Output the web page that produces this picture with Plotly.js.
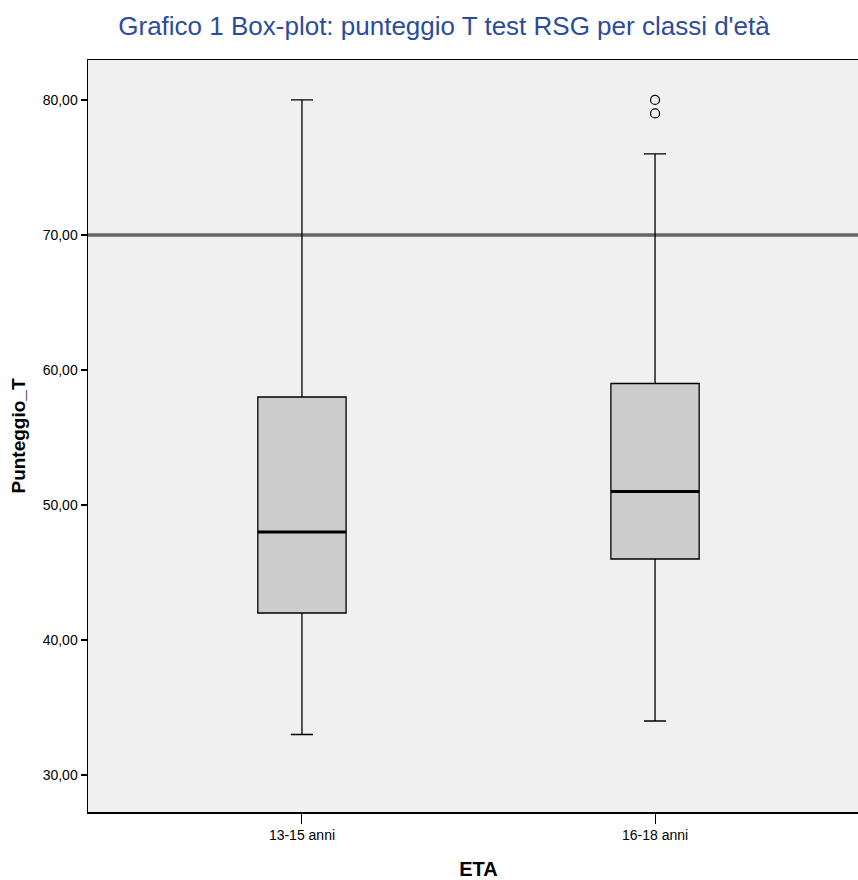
<!DOCTYPE html>
<html><head><meta charset="utf-8">
<script src="https://cdn.plot.ly/plotly-3.0.1.min.js"></script>
<style>html,body{margin:0;padding:0;overflow:hidden;background:#fff}</style>
</head><body><div id="chart"></div>
<script>
const categories = ["13-15 anni", "16-18 anni"];
const lowerWhisker = [33, 34];
const q1Values = [42, 46];
const medians = [48, 51];
const q3Values = [58, 59];
const upperWhisker = [80, 76];
const outlierCategory = ["16-18 anni", "16-18 anni"];
const outlierValues = [79, 80];
const referenceValue = 70;
const yTicks = [30, 40, 50, 60, 70, 80];

const boxWidth = 0.25;
const traces = [
  {
    type: 'box', x: categories, q1: q1Values, median: medians, q3: q3Values,
    lowerfence: lowerWhisker, upperfence: upperWhisker,
    fillcolor: '#CCCCCC', line: {color: '#000', width: 1.3},
    width: boxWidth, whiskerwidth: 0.25, boxpoints: false, hoverinfo: 'skip', showlegend: false
  },
  {
    type: 'scatter', mode: 'markers', x: outlierCategory, y: outlierValues,
    marker: {symbol: 'circle-open', size: 9, color: '#000', line: {width: 1.2}},
    showlegend: false, hoverinfo: 'skip'
  }
];

const shapes = [
  {type: 'line', xref: 'paper', yref: 'y', x0: 0, x1: 1, y0: referenceValue, y1: referenceValue,
   line: {color: '#666666', width: 3.5}, layer: 'below'}
];
medians.forEach((m, i) => {
  shapes.push({type: 'line', xref: 'x', yref: 'y', x0: i - boxWidth/2, x1: i + boxWidth/2, y0: m, y1: m,
    line: {color: '#000', width: 3}});
});

const layout = {
  width: 872, height: 880,
  margin: {l: 88, r: 3, t: 60, b: 68},
  paper_bgcolor: '#fff', plot_bgcolor: '#F0F0F0',
  separators: ',.',
  title: {text: "Grafico 1 Box-plot: punteggio T test RSG per classi d'età",
    font: {family: 'Liberation Sans, Arial', size: 26, color: '#2B4C9B'},
    xref: 'container', x: 444/872, xanchor: 'center', y: 1 - 26/880, yanchor: 'middle'},
  xaxis: {
    type: 'category', range: [-0.606, 1.606],
    showline: true, mirror: true, linecolor: '#000', linewidth: 1.5,
    showgrid: false, zeroline: false,
    ticks: 'outside', ticklen: 10, tickwidth: 1, tickcolor: '#000',
    tickfont: {family: 'Liberation Sans Narrow, Liberation Sans, Arial', size: 14, color: '#000'},
    title: {text: 'ETA', font: {family: 'Liberation Sans Narrow, Liberation Sans, Arial', size: 20, color: '#000', weight: 'bold'}, standoff: 20}
  },
  yaxis: {
    range: [27.26, 82.96], tickvals: yTicks, tickformat: '.2f',
    showline: true, mirror: true, linecolor: '#000', linewidth: 1.5,
    showgrid: false, zeroline: false,
    ticks: 'outside', ticklen: 6, tickwidth: 2.5, tickcolor: '#000',
    tickfont: {family: 'Liberation Sans Narrow, Liberation Sans, Arial', size: 14, color: '#000'},
    title: {text: 'Punteggio_T', font: {family: 'Liberation Sans, Arial', size: 19, color: '#000', weight: 'bold'}, standoff: 12}
  },
  shapes: shapes
};

Plotly.newPlot('chart', traces, layout, {displayModeBar: false, staticPlot: true});
</script>
</body></html>
